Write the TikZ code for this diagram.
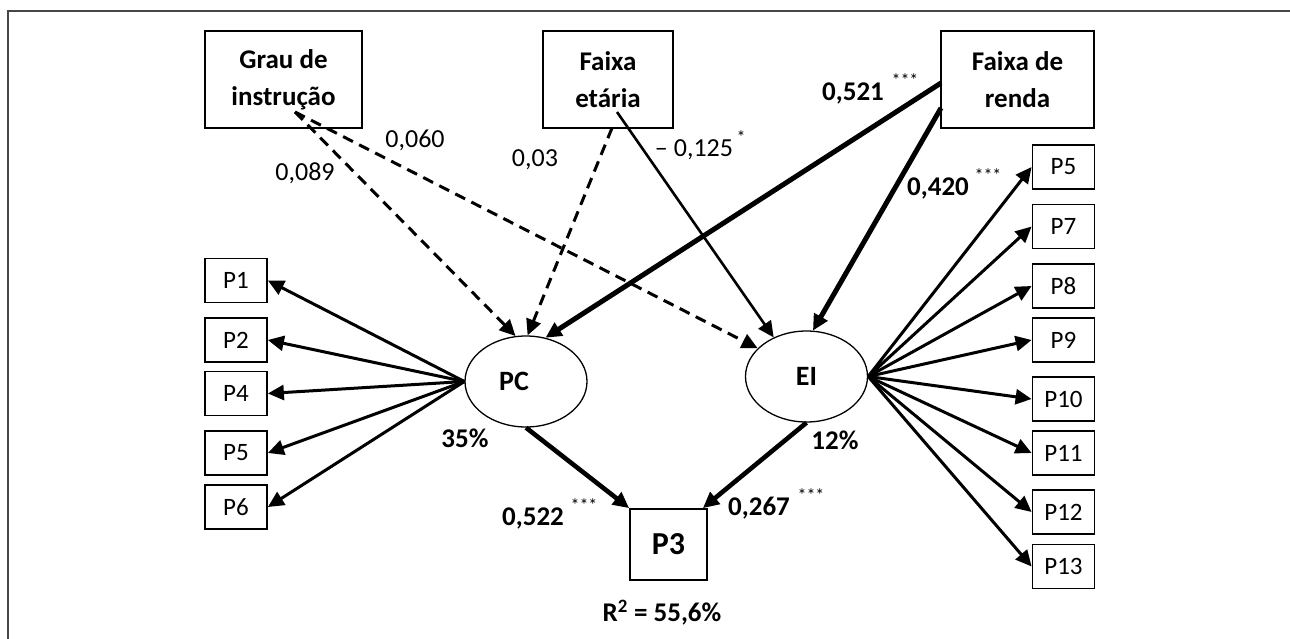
\documentclass[tikz,border=0pt]{standalone}
\usepackage{fontspec}
\setmainfont{Carlito}
\usetikzlibrary{arrows.meta,shapes.geometric}
\begin{document}
\begin{tikzpicture}[x=1pt,y=-1pt,
 box/.style={draw=black, line width=1.8pt, inner sep=0pt, align=center},
 bigbox/.style={box, font=\fontsize{27}{37}\selectfont\bfseries},
 ind/.style={box, minimum width=62pt, minimum height=44pt, font=\fontsize{25}{28}\selectfont},
 lat/.style={draw, ellipse, line width=1.3pt, minimum width=122pt, minimum height=91pt, inner sep=0pt, font=\fontsize{28}{30}\selectfont\bfseries},
 arr/.style={-{Triangle[length=16pt,width=15pt]}, line width=3pt},
 thickarr/.style={-{Triangle[length=16pt,width=15pt]}, line width=4.6pt},
 dasharr/.style={arr, dash pattern=on 11pt off 7pt},
 lab/.style={font=\fontsize{26}{28}\selectfont, inner sep=0pt},
 blab/.style={font=\fontsize{27}{30}\selectfont\bfseries, inner sep=0pt},
 star/.style={font=\fontsize{18}{20}\selectfont, inner sep=0pt}
]
\useasboundingbox (0,0) rectangle (1290,639);
\fill[white] (0,0) rectangle (1290,639);
\draw[line width=2pt, black!72] (8,639) -- (8,11) -- (1290,11);

% exogenous boxes
\node[bigbox, minimum width=157pt, minimum height=97pt] (grau) at (283.5,79.5) {Grau de\\instrução};
\node[bigbox, minimum width=130pt, minimum height=97pt] (etaria) at (608,79.5) {Faixa\\etária};
\node[bigbox, minimum width=153pt, minimum height=97pt] (renda) at (1017.5,79.5) {Faixa de\\renda};

% latent variables
\node[lat] (PC) at (526,381.5) {PC\kern24pt};
\node[lat] (EI) at (806.5,376.5) {EI};

% outcome
\node[box, minimum width=77pt, minimum height=71pt, font=\fontsize{32}{34}\selectfont\bfseries] (P3) at (668.5,544.5) {P3};

% left indicators
\node[ind] (L1) at (236,280.5) {P1};
\node[ind] (L2) at (236,340) {P2};
\node[ind] (L4) at (236,393.5) {P4};
\node[ind] (L5) at (236,453) {P5};
\node[ind] (L6) at (236,507) {P6};

% right indicators
\node[ind] (R5) at (1063.5,167) {P5};
\node[ind] (R7) at (1063.5,226.5) {P7};
\node[ind] (R8) at (1063.5,286) {P8};
\node[ind] (R9) at (1063.5,340) {P9};
\node[ind] (R10) at (1063.5,399) {P10};
\node[ind] (R11) at (1063.5,453) {P11};
\node[ind] (R12) at (1063.5,512) {P12};
\node[ind] (R13) at (1063.5,566.5) {P13};

% start points inside boxes
\coordinate (gs) at (295,112);
\coordinate (es) at (617,112);
\coordinate (eb) at (612,128);
\coordinate (r1) at (941,83);
\coordinate (r2) at (941,108);

% dashed paths
\draw[dasharr] (gs) -- (PC.103);
\draw[dasharr] (gs) -- (EI.150);
\draw[dasharr] (eb) -- (PC.88);

% solid paths
\draw[arr, line width=2.6pt] (es) -- (EI.130);
\draw[thickarr, line width=5pt] (r1) -- (PC.66);
\draw[thickarr, line width=5pt] (r2) -- (EI.82);
\draw[thickarr] (PC.south) -- (P3.north west);
\draw[thickarr] (EI.south) -- ([xshift=-5pt]P3.north east);

% loadings
\foreach \n in {L1,L2,L4,L5,L6} \draw[arr] (PC.west) -- (\n.east);
\foreach \n in {R5,R7,R8,R9,R10,R11,R12,R13} \draw[arr] (EI.east) -- (\n.west);

% labels
\node[lab] (l060) at (415,140) {0,060};
\node[lab] (l089) at (305,173) {0,089};
\node[lab] (l03) at (535,160) {0,03};
\node[lab] (l125) at (694,150) {\char"2013\ 0,125};
\node[star] (s125) at (741,137) {*};
\node[blab] (l521) at (853,93) {0,521};
\node[star] (s521) at (905,80) {***};
\node[blab] (l420) at (938,188) {0,420};
\node[star] (s420) at (988,175) {***};
\node[blab] (l35) at (465,438) {35\%};
\node[blab] (l12) at (835,440) {12\%};
\node[blab] (l522) at (533,518) {0,522};
\node[star] (s522) at (584,505) {***};
\node[blab] (l267) at (759,508) {0,267};
\node[star] (s267) at (811,495) {***};
\node[blab] (r2lab) at (662,613) {R\textsuperscript{2} = 55,6\%};
\end{tikzpicture}
\end{document}
